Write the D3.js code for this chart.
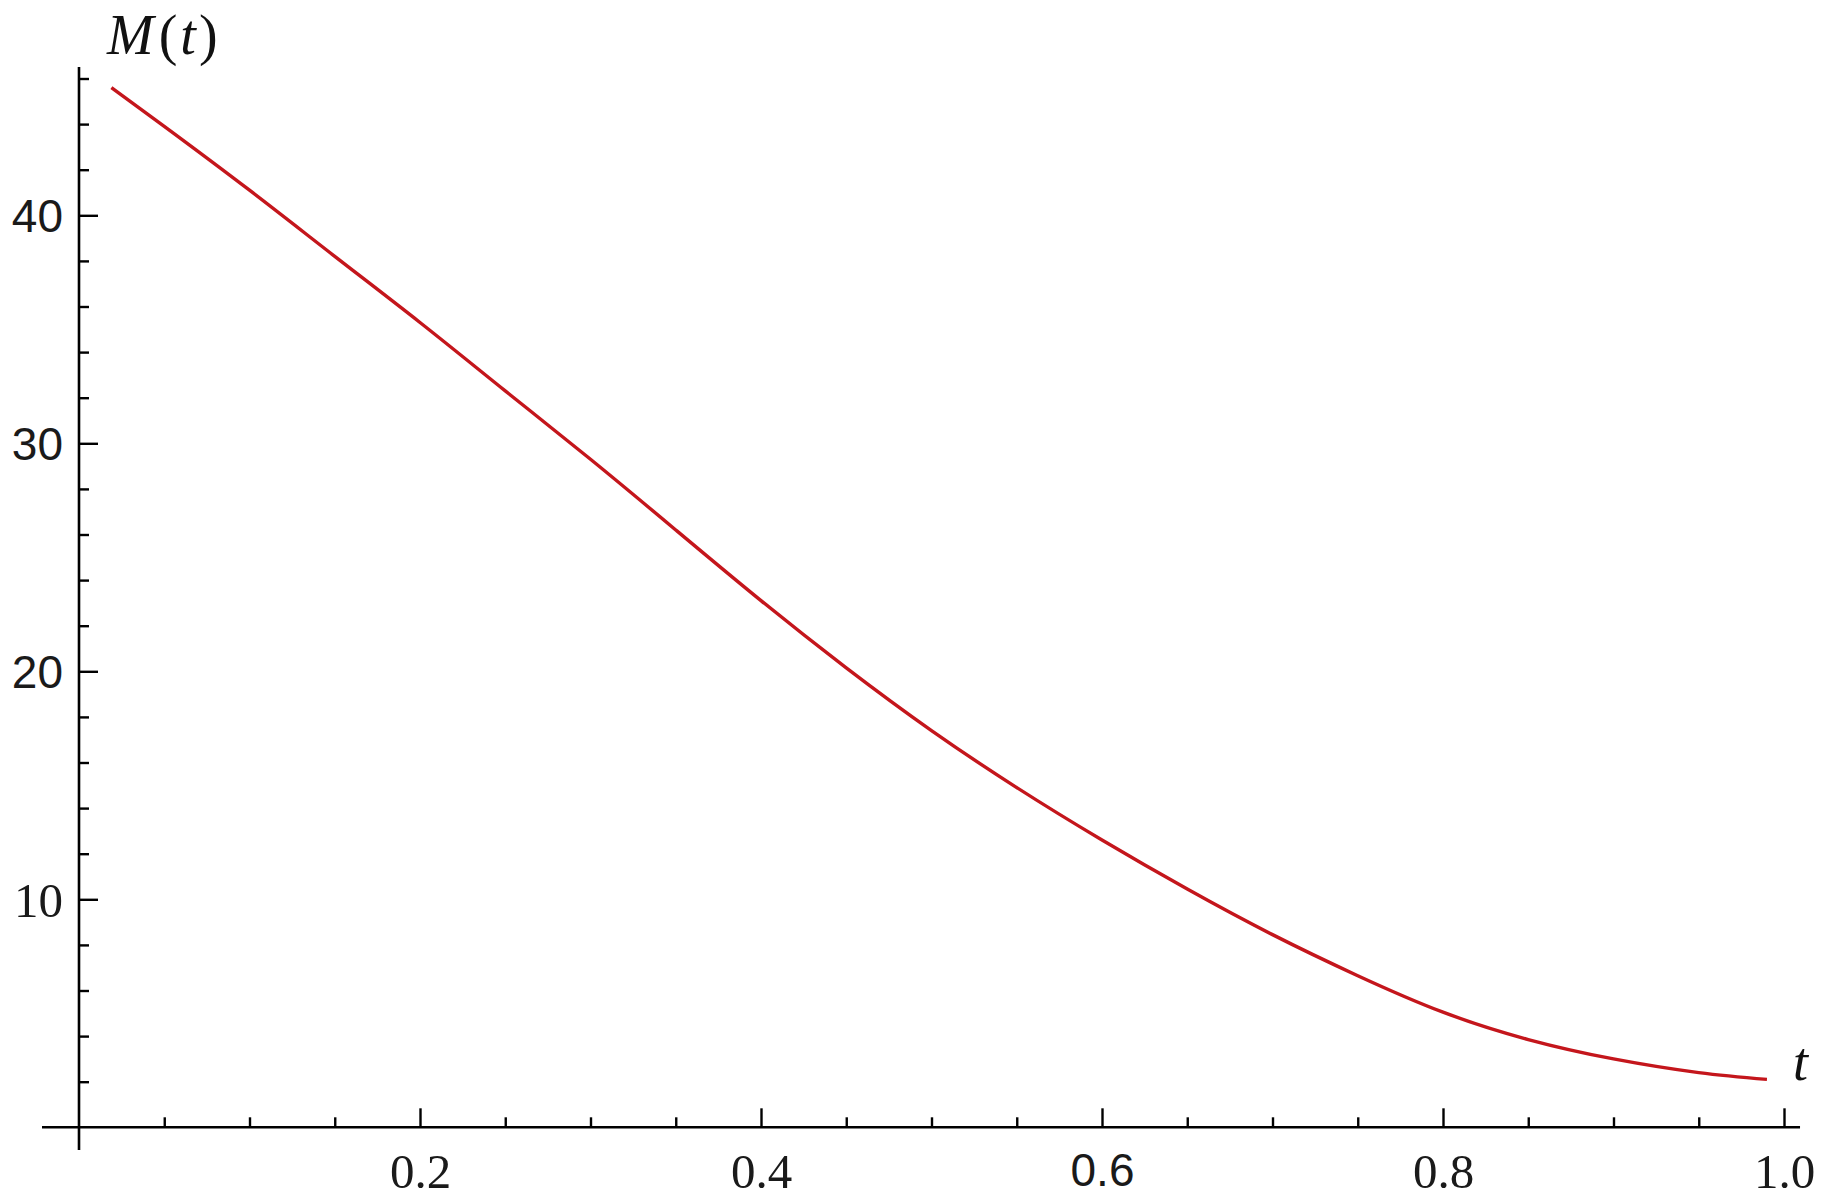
<!DOCTYPE html>
<html>
<head>
<meta charset="utf-8">
<script src="https://cdn.jsdelivr.net/npm/d3@7"></script>
<style>
  html, body { margin: 0; padding: 0; background: #fff; }
  svg { display: block; }
</style>
</head>
<body>
<svg id="chart" width="1828" height="1203"></svg>
<script>
// ---- data ----
const tValues = [0.019, 0.05, 0.1, 0.15, 0.2, 0.25, 0.3, 0.35, 0.4, 0.45, 0.5,
                 0.55, 0.6, 0.65, 0.7, 0.75, 0.8, 0.85, 0.9, 0.95, 0.99];
const mValues = [45.6, 43.9, 41.1, 38.2, 35.3, 32.3, 29.3, 26.2, 23.1, 20.15, 17.4,
                 14.9, 12.6, 10.45, 8.45, 6.65, 5.05, 3.85, 3.0, 2.4, 2.1];
const xMajorTicks = [0.2, 0.4, 0.6, 0.8, 1.0];
const xTickLabels = ["0.2", "0.4", "0.6", "0.8", "1.0"];
const xMinorTicks = [0.05, 0.1, 0.15, 0.25, 0.3, 0.35, 0.45, 0.5, 0.55, 0.65, 0.7, 0.75, 0.85, 0.9, 0.95];
const yMajorTicks = [10, 20, 30, 40];
const yTickLabels = ["10", "20", "30", "40"];
const yMinorTicks = [2, 4, 6, 8, 12, 14, 16, 18, 22, 24, 26, 28, 32, 34, 36, 38, 42, 44, 46];
const xDomain = [-0.0217, 1.0094];
const yDomain = [-1.0, 46.5];

// ---- layout ----
const svg = d3.select("#chart");
const x = d3.scaleLinear().domain([0, 1]).range([79, 1784]);
const y = d3.scaleLinear().domain([0, 40]).range([1127.3, 215.3]);

const serif = "'Liberation Serif', 'Times New Roman', serif";
const sans = "'Liberation Sans', Arial, sans-serif";
const sansLabels = new Set(["20", "30", "40", "0.6"]);

// axis lines
svg.append("line")
  .attr("x1", x(xDomain[0])).attr("x2", x(xDomain[1]))
  .attr("y1", y(0)).attr("y2", y(0))
  .attr("stroke", "#000").attr("stroke-width", 2.6);
svg.append("line")
  .attr("x1", x(0)).attr("x2", x(0))
  .attr("y1", y(yDomain[0])).attr("y2", y(yDomain[1]))
  .attr("stroke", "#000").attr("stroke-width", 2.6);

// x axis major
const gx = svg.append("g").attr("transform", `translate(0,${y(0)})`)
  .call(d3.axisBottom(x).tickValues(xMajorTicks)
    .tickFormat((d, i) => xTickLabels[i])
    .tickSize(-19).tickPadding(26));
// x axis minor
const gxm = svg.append("g").attr("transform", `translate(0,${y(0)})`)
  .call(d3.axisBottom(x).tickValues(xMinorTicks).tickFormat("").tickSize(-10));

// y axis major
const gy = svg.append("g").attr("transform", `translate(${x(0)},0)`)
  .call(d3.axisLeft(y).tickValues(yMajorTicks)
    .tickFormat((d, i) => yTickLabels[i])
    .tickSize(-19).tickPadding(16));
// y axis minor
const gym = svg.append("g").attr("transform", `translate(${x(0)},0)`)
  .call(d3.axisLeft(y).tickValues(yMinorTicks).tickFormat("").tickSize(-10));

[gx, gxm, gy, gym].forEach(g => {
  g.select(".domain").remove();
  g.selectAll(".tick line").attr("stroke", "#000").attr("stroke-width", 2.4);
});
[gx, gy].forEach(g => {
  g.selectAll(".tick text")
    .attr("fill", "#1a1a1a")
    .style("font-family", function() { return sansLabels.has(this.textContent) ? sans : serif; })
    .style("font-size", function() { return sansLabels.has(this.textContent) ? "46px" : "49px"; });
});
gy.selectAll(".tick text").attr("dy", "0.36em");

// curve
const data = tValues.map((t, i) => ({ t, m: mValues[i] }));
const line = d3.line().x(d => x(d.t)).y(d => y(d.m)).curve(d3.curveNatural);
svg.append("path").datum(data)
  .attr("d", line)
  .attr("fill", "none")
  .attr("stroke", "#c4161c")
  .attr("stroke-width", 3.4)
  .attr("stroke-linecap", "butt");

// axis labels
const ml = svg.append("text")
  .attr("x", 107).attr("y", 54)
  .attr("fill", "#111")
  .style("font-family", serif)
  .style("font-size", "56px");
ml.append("tspan").style("font-style", "italic").text("M");
ml.append("tspan").attr("dx", 5).text("(");
ml.append("tspan").attr("dx", 3).style("font-style", "italic").text("t");
ml.append("tspan").attr("dx", 3).text(")");

svg.append("text")
  .attr("x", 1793).attr("y", 1080)
  .attr("fill", "#111")
  .style("font-family", serif)
  .style("font-style", "italic")
  .style("font-size", "54px")
  .text("t");
</script>
</body>
</html>
